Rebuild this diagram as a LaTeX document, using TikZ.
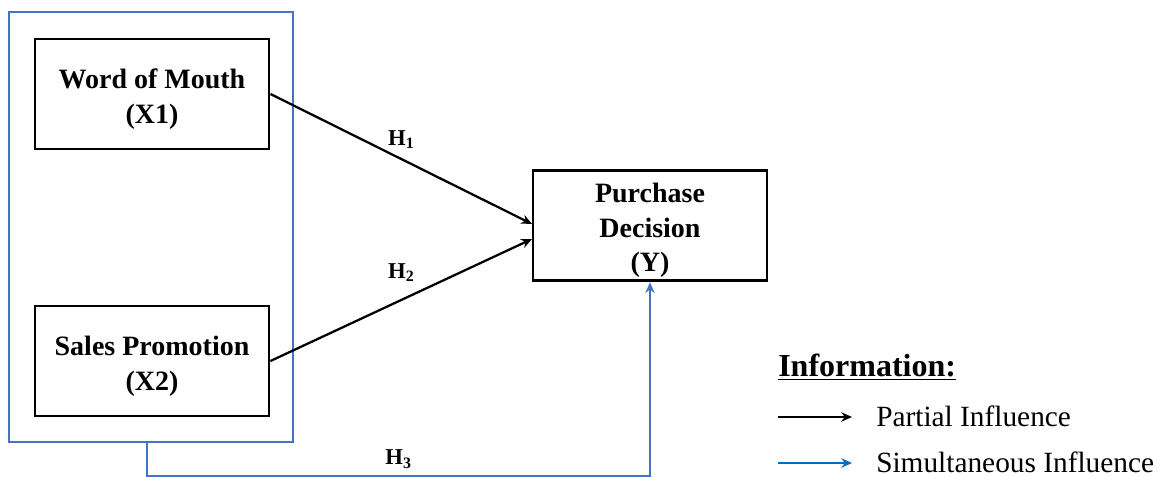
\documentclass[tikz,border=0pt]{standalone}
\usepackage{fontspec}
\setmainfont{Liberation Serif}
\usetikzlibrary{arrows.meta}

\definecolor{frameblue}{HTML}{4472C4}
\definecolor{keyblue}{HTML}{0070C0}

\begin{document}
\begin{tikzpicture}[x=0.75pt, y=-0.75pt,
  var/.style = {draw, line width=2.2pt, align=center,
    font=\fontsize{21}{26}\selectfont\bfseries,
    minimum width=175.5pt, minimum height=82.5pt, inner sep=0pt},
  hyp/.style = {font=\fontsize{17}{20}\selectfont\bfseries, inner sep=2pt, text=black},
  infl/.style = {line width=1.7pt, -{Stealth[length=8pt, width=7pt]}},
  key/.style = {anchor=west, inner sep=0pt, font=\fontsize{22}{26}\selectfont}]
  \useasboundingbox (0,0) rectangle (1166,477);

  % variables
  \node[var] (x1) at (152,94) {\rule{0pt}{22pt}Word of Mouth\\(X1)};
  \node[var] (x2) at (152,361) {\rule{0pt}{22pt}Sales Promotion\\(X2)};
  \node[var, minimum height=83pt] (y) at (650,225.5) {\rule{0pt}{22pt}Purchase\\Decision\\(Y)};
  \draw[frameblue, line width=1.7pt] (9,12) rectangle (293,442);
  \coordinate (frame) at (147,442);

  % hypotheses
  \draw[infl] (x1.east) -- node[hyp, midway, above=5pt] {H\textsubscript{1}} (532,224);
  \draw[infl] (x2.east) -- node[hyp, midway, above=11pt] {H\textsubscript{2}} (532,239);
  \draw[infl, frameblue] (frame) -- (147,476)
    -| node[hyp, pos=0.25, above=3pt] {H\textsubscript{3}} (y.south);

  % legend
  \node[key, font=\fontsize{24}{28}\selectfont\bfseries] (info) at (778,367) {\underline{Information:}};
  \coordinate (ka) at (778,417);
  \coordinate (kb) at (852,417);
  \coordinate (kc) at (778,463);
  \coordinate (kd) at (852,463);
  \draw[infl, line width=2.2pt] (ka) -- (kb);
  \draw[infl, line width=2.2pt, keyblue] (kc) -- (kd);
  \node[key] (partial) at (876,416) {Partial Influence};
  \node[key] (simul) at (876,462) {Simultaneous Influence};
\end{tikzpicture}
\end{document}
